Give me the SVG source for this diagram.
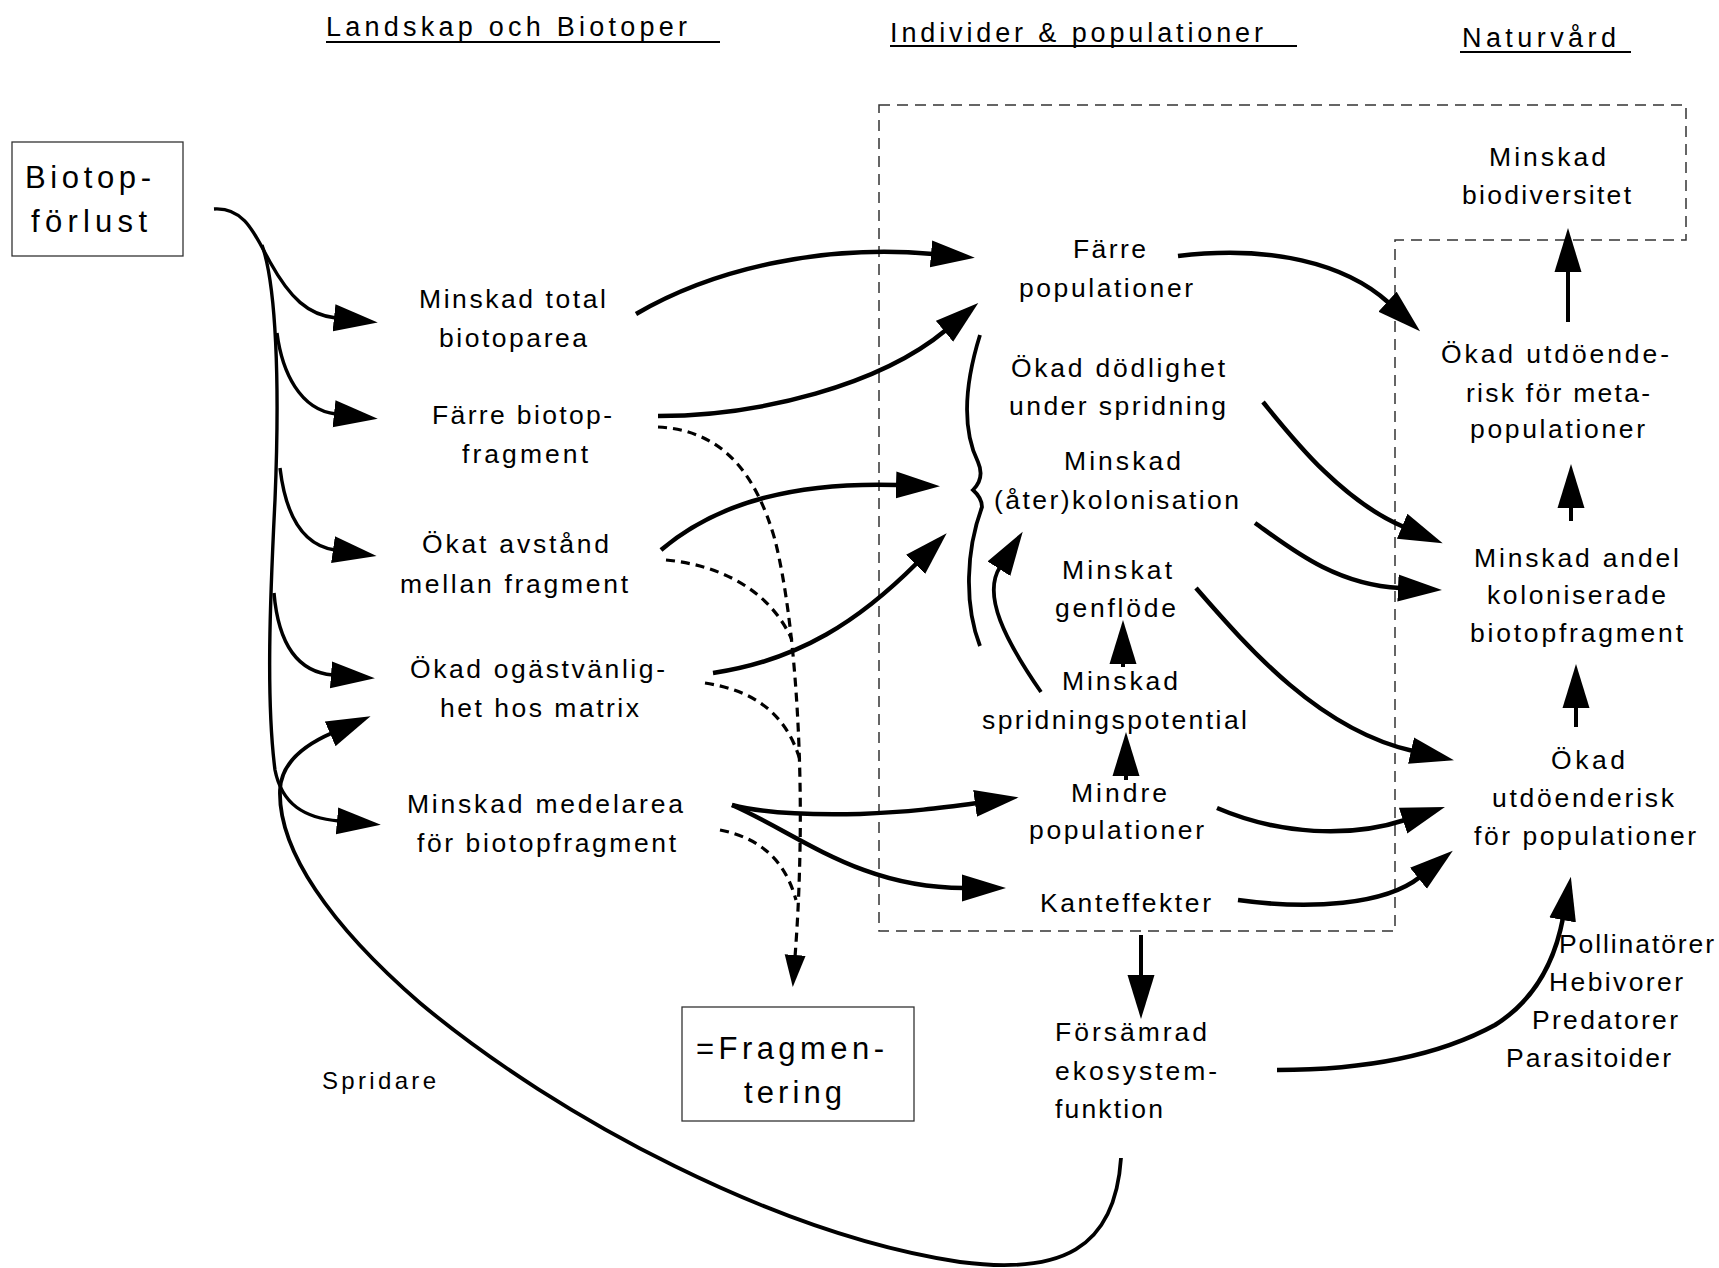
<svg xmlns="http://www.w3.org/2000/svg" width="1719" height="1268" viewBox="0 0 1719 1268">
<defs>
<marker id="ah" markerUnits="userSpaceOnUse" markerWidth="46" markerHeight="28" viewBox="0 -14 46 28" refX="2" refY="0" orient="auto"><path d="M0,-13.5 L44,0 L0,13.5 z" fill="#000"/></marker>
<marker id="ahs" markerUnits="userSpaceOnUse" markerWidth="34" markerHeight="22" viewBox="0 -11 34 22" refX="2" refY="0" orient="auto"><path d="M0,-10.5 L32,0 L0,10.5 z" fill="#000"/></marker>
</defs>
<style>
.t{font-family:"Liberation Sans",Arial,sans-serif;font-size:26.5px;fill:#000}
.h{font-size:27px}
.big{font-size:31px}
.sm{font-size:24px}
.c{fill:none;stroke:#000;stroke-width:4.5}
.thin{stroke-width:3.4}
.d{fill:none;stroke:#000;stroke-width:3.2;stroke-dasharray:9 6}
.box{fill:#fff;stroke:#333;stroke-width:1.3}
.region{fill:none;stroke:#333;stroke-width:1.5;stroke-dasharray:11 7}
.ul{stroke:#000;stroke-width:2}
</style>
<rect width="1719" height="1268" fill="#fff"/>

<g id="headers">
<text class="t h" x="326" y="36" textLength="361" lengthAdjust="spacing">Landskap och Biotoper</text>
<line class="ul" x1="326" y1="42" x2="720" y2="42"/>
<text class="t h" x="890" y="41.5" textLength="373" lengthAdjust="spacing">Individer &amp; populationer</text>
<line class="ul" x1="890" y1="46" x2="1297" y2="46"/>
<text class="t h" x="1462" y="46.5" textLength="154" lengthAdjust="spacing">Naturvård</text>
<line class="ul" x1="1460" y1="52" x2="1631" y2="52"/>
</g>

<g id="region">
<path class="region" d="M879,105 L1686,105 L1686,240 L1395,240 L1395,931 L879,931 Z"/>
</g>

<g id="connectors">
<path class="c thin" d="M214,209 C245,207 255,235 270,262 C290,298 308,315 336,318" marker-end="url(#ah)"/>
<path class="c thin" d="M262,245 C276,285 280,380 275,500 C270,600 266,700 275,770 C282,805 305,818 339,821" marker-end="url(#ah)"/>
<path class="c thin" d="M277,333 C282,372 300,410 336,414" marker-end="url(#ah)"/>
<path class="c thin" d="M280,468 C285,510 300,545 335,550" marker-end="url(#ah)"/>
<path class="c thin" d="M274,593 C278,640 295,672 333,675" marker-end="url(#ah)"/>
<path class="c" style="stroke-width:3.8" d="M1121,1158 C1115,1250 1060,1275 960,1262 C780,1235 560,1120 420,1003 C330,925 278,850 280,790 C281,765 302,746 332,733" marker-end="url(#ah)"/>

<path class="c" d="M636,314 C720,265 830,245 933,254" marker-end="url(#ah)"/>
<path class="c" d="M658,416 C760,416 880,385 946,330" marker-end="url(#ah)"/>
<path class="c" d="M661,550 C720,500 800,482 898,485" marker-end="url(#ah)"/>
<path class="c" d="M713,673 C800,660 860,620 917,563" marker-end="url(#ah)"/>
<path class="c" d="M732,805 C770,815 820,815 860,814 C910,812 940,808 977,803" marker-end="url(#ah)"/>
<path class="c" d="M732,805 C800,835 860,888 964,888" marker-end="url(#ah)"/>

<path class="d" d="M658,427 C720,430 755,470 775,540 C795,620 802,750 800,850 C799,900 797,930 795,957" marker-end="url(#ahs)"/>
<path class="d" d="M666,560 C720,565 770,590 792,640"/>
<path class="d" d="M705,683 C750,690 785,710 800,760"/>
<path class="d" d="M720,830 C760,838 785,860 796,900"/>

<path class="c" style="stroke-width:3.8" d="M980,335 C966,380 960,425 978,462 Q985,478 973,490 Q982,498 982,507 C966,550 964,605 980,646"/>
<path class="c" style="stroke-width:3.8" d="M1041,692 C1005,640 982,595 1000,567" marker-end="url(#ah)"/>

<path class="c" style="stroke-width:4" d="M1123,667 L1123,662" marker-end="url(#ah)"/>
<path class="c" style="stroke-width:4" d="M1126,780 L1126,774" marker-end="url(#ah)"/>
<path class="c" style="stroke-width:4" d="M1141,935 L1141,977" marker-end="url(#ah)"/>
<path class="c" style="stroke-width:4" d="M1568,322 L1568,270" marker-end="url(#ah)"/>
<path class="c" style="stroke-width:4" d="M1571,521 L1571,506" marker-end="url(#ah)"/>
<path class="c" style="stroke-width:4" d="M1576,727 L1576,706" marker-end="url(#ah)"/>

<path class="c" d="M1178,256 C1270,245 1345,263 1389,303" marker-end="url(#ah)"/>
<path class="c" d="M1263,402 C1290,435 1340,500 1404,527" marker-end="url(#ah)"/>
<path class="c" d="M1255,523 C1290,548 1335,585 1400,588" marker-end="url(#ah)"/>
<path class="c" d="M1196,588 C1250,650 1320,730 1413,751" marker-end="url(#ah)"/>
<path class="c" d="M1217,808 C1280,835 1350,838 1405,820" marker-end="url(#ah)"/>
<path class="c" d="M1238,900 C1310,910 1385,905 1420,877" marker-end="url(#ah)"/>
<path class="c" d="M1277,1070 C1370,1070 1440,1055 1495,1025 C1535,1000 1555,960 1563,918" marker-end="url(#ah)"/>
</g>

<g id="biotopforlust">
<rect class="box" x="12" y="142" width="171" height="114"/>
<text class="t big" x="25" y="188" textLength="126" lengthAdjust="spacing">Biotop-</text>
<text class="t big" x="31" y="232" textLength="116" lengthAdjust="spacing">förlust</text>
</g>
<g id="fragmentering">
<rect class="box" x="682" y="1007" width="232" height="114"/>
<text class="t big" x="696" y="1059" textLength="188" lengthAdjust="spacing">=Fragmen-</text>
<text class="t big" x="744" y="1103" textLength="98" lengthAdjust="spacing">tering</text>
</g>

<g id="minskad-total-biotoparea">
<text class="t" x="419" y="308" textLength="187" lengthAdjust="spacing">Minskad total</text>
<text class="t" x="439" y="347" textLength="148" lengthAdjust="spacing">biotoparea</text>
</g>
<g id="farre-biotopfragment">
<text class="t" x="432" y="424" textLength="180" lengthAdjust="spacing">Färre biotop-</text>
<text class="t" x="462" y="463" textLength="126" lengthAdjust="spacing">fragment</text>
</g>
<g id="okat-avstand">
<text class="t" x="422" y="553" textLength="187" lengthAdjust="spacing">Ökat avstånd</text>
<text class="t" x="400" y="593" textLength="228" lengthAdjust="spacing">mellan fragment</text>
</g>
<g id="okad-ogastvanlighet">
<text class="t" x="410" y="678" textLength="255" lengthAdjust="spacing">Ökad ogästvänlig-</text>
<text class="t" x="440" y="717" textLength="199" lengthAdjust="spacing">het hos matrix</text>
</g>
<g id="minskad-medelarea">
<text class="t" x="407" y="813" textLength="276" lengthAdjust="spacing">Minskad medelarea</text>
<text class="t" x="417" y="852" textLength="259" lengthAdjust="spacing">för biotopfragment</text>
</g>
<g id="spridare">
<text class="t sm" x="322" y="1089" textLength="114" lengthAdjust="spacing">Spridare</text>
</g>

<g id="farre-populationer">
<text class="t" x="1073" y="258" textLength="73" lengthAdjust="spacing">Färre</text>
<text class="t" x="1019" y="297" textLength="174" lengthAdjust="spacing">populationer</text>
</g>
<g id="okad-dodlighet">
<text class="t" x="1011" y="377" textLength="214" lengthAdjust="spacing">Ökad dödlighet</text>
<text class="t" x="1009" y="415" textLength="217" lengthAdjust="spacing">under spridning</text>
</g>
<g id="minskad-aterkolonisation">
<text class="t" x="1064" y="470" textLength="117" lengthAdjust="spacing">Minskad</text>
<text class="t" x="994" y="509" textLength="245" lengthAdjust="spacing">(åter)kolonisation</text>
</g>
<g id="minskat-genflode">
<text class="t" x="1062" y="579" textLength="110" lengthAdjust="spacing">Minskat</text>
<text class="t" x="1055" y="617" textLength="121" lengthAdjust="spacing">genflöde</text>
</g>
<g id="minskad-spridningspotential">
<text class="t" x="1062" y="690" textLength="116" lengthAdjust="spacing">Minskad</text>
<text class="t" x="982" y="729" textLength="265" lengthAdjust="spacing">spridningspotential</text>
</g>
<g id="mindre-populationer">
<text class="t" x="1071" y="802" textLength="96" lengthAdjust="spacing">Mindre</text>
<text class="t" x="1029" y="839" textLength="175" lengthAdjust="spacing">populationer</text>
</g>
<g id="kanteffekter">
<text class="t" x="1040" y="912" textLength="171" lengthAdjust="spacing">Kanteffekter</text>
</g>
<g id="forsamrad-ekosystemfunktion">
<text class="t" x="1055" y="1041" textLength="152" lengthAdjust="spacing">Försämrad</text>
<text class="t" x="1055" y="1080" textLength="162" lengthAdjust="spacing">ekosystem-</text>
<text class="t" x="1055" y="1118" textLength="108" lengthAdjust="spacing">funktion</text>
</g>

<g id="minskad-biodiversitet">
<text class="t" x="1489" y="166" textLength="117" lengthAdjust="spacing">Minskad</text>
<text class="t" x="1462" y="204" textLength="169" lengthAdjust="spacing">biodiversitet</text>
</g>
<g id="okad-utdoenderisk-meta">
<text class="t" x="1441" y="363" textLength="228" lengthAdjust="spacing">Ökad utdöende-</text>
<text class="t" x="1466" y="402" textLength="184" lengthAdjust="spacing">risk för meta-</text>
<text class="t" x="1470" y="438" textLength="175" lengthAdjust="spacing">populationer</text>
</g>
<g id="minskad-andel">
<text class="t" x="1474" y="567" textLength="205" lengthAdjust="spacing">Minskad andel</text>
<text class="t" x="1487" y="604" textLength="179" lengthAdjust="spacing">koloniserade</text>
<text class="t" x="1470" y="642" textLength="213" lengthAdjust="spacing">biotopfragment</text>
</g>
<g id="okad-utdoenderisk-pop">
<text class="t" x="1551" y="769" textLength="74" lengthAdjust="spacing">Ökad</text>
<text class="t" x="1492" y="807" textLength="182" lengthAdjust="spacing">utdöenderisk</text>
<text class="t" x="1474" y="845" textLength="222" lengthAdjust="spacing">för populationer</text>
</g>
<g id="funktionsgrupper">
<text class="t" x="1559" y="953" textLength="155" lengthAdjust="spacing">Pollinatörer</text>
<text class="t" x="1549" y="991" textLength="134" lengthAdjust="spacing">Hebivorer</text>
<text class="t" x="1532" y="1029" textLength="146" lengthAdjust="spacing">Predatorer</text>
<text class="t" x="1506" y="1067" textLength="165" lengthAdjust="spacing">Parasitoider</text>
</g>
</svg>
